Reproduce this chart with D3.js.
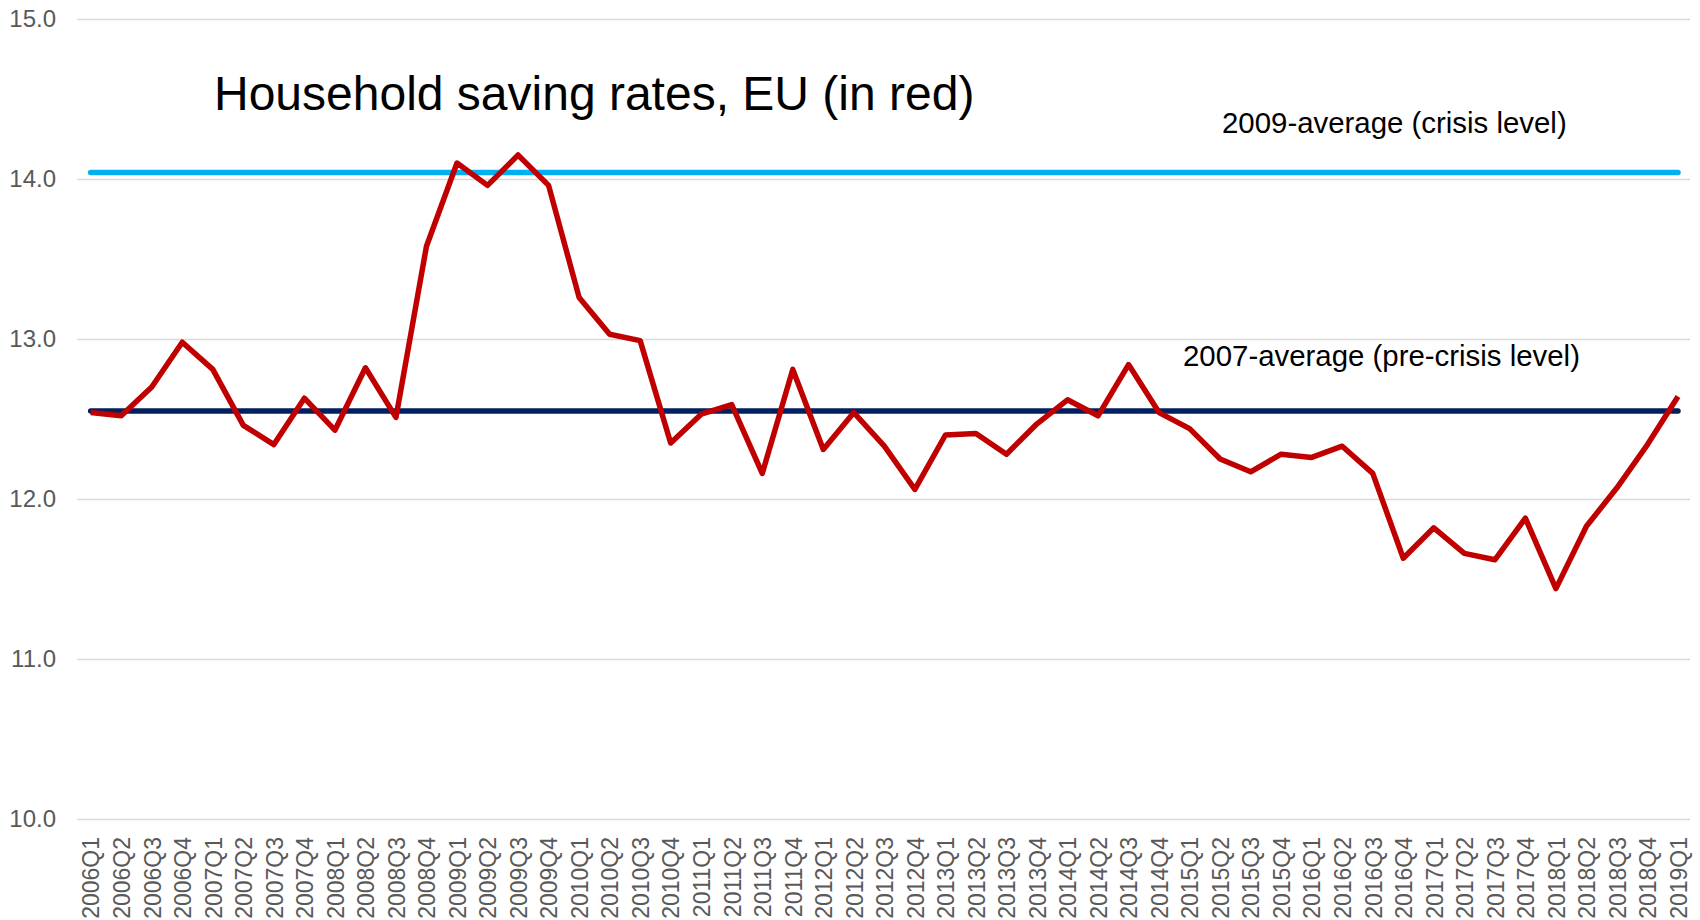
<!DOCTYPE html>
<html>
<head>
<meta charset="utf-8">
<script src="https://cdn.jsdelivr.net/npm/d3@7"></script>
<style>
  html, body { margin: 0; padding: 0; background: #ffffff; }
  svg { display: block; font-family: "Liberation Sans", Arial, sans-serif; }
</style>
</head>
<body>
<svg id="chart" width="1700" height="920"></svg>
<script>
// ---- data ----
const categories = [
  "2006Q1","2006Q2","2006Q3","2006Q4",
  "2007Q1","2007Q2","2007Q3","2007Q4",
  "2008Q1","2008Q2","2008Q3","2008Q4",
  "2009Q1","2009Q2","2009Q3","2009Q4",
  "2010Q1","2010Q2","2010Q3","2010Q4",
  "2011Q1","2011Q2","2011Q3","2011Q4",
  "2012Q1","2012Q2","2012Q3","2012Q4",
  "2013Q1","2013Q2","2013Q3","2013Q4",
  "2014Q1","2014Q2","2014Q3","2014Q4",
  "2015Q1","2015Q2","2015Q3","2015Q4",
  "2016Q1","2016Q2","2016Q3","2016Q4",
  "2017Q1","2017Q2","2017Q3","2017Q4",
  "2018Q1","2018Q2","2018Q3","2018Q4",
  "2019Q1"
];
const savingRateEU = [
  12.54, 12.52, 12.70, 12.98,
  12.81, 12.46, 12.34, 12.63,
  12.43, 12.82, 12.51, 13.58,
  14.10, 13.96, 14.15, 13.96,
  13.26, 13.03, 12.99, 12.35,
  12.53, 12.59, 12.16, 12.81,
  12.31, 12.54, 12.33, 12.06,
  12.40, 12.41, 12.28, 12.47,
  12.62, 12.52, 12.84, 12.54,
  12.44, 12.25, 12.17, 12.28,
  12.26, 12.33, 12.16, 11.63,
  11.82, 11.66, 11.62, 11.88,
  11.44, 11.83, 12.07, 12.34,
  12.64
];
const average2009 = 14.04;   // crisis level
const average2007 = 12.55;   // pre-crisis level
const yTicks = [10, 11, 12, 13, 14, 15];
const titleText = "Household saving rates, EU (in red)";
const label2009 = "2009-average (crisis level)";
const label2007 = "2007-average (pre-crisis level)";

// ---- layout ----
const svg = d3.select("#chart");
const plotLeft = 77, plotRight = 1690, plotTop = 19, plotBottom = 819;

const x = d3.scalePoint().domain(categories).range([90.7, 1678]);
const y = d3.scaleLinear().domain([10, 15]).range([plotBottom, plotTop]);

svg.append("rect").attr("width", 1700).attr("height", 920).attr("fill", "#ffffff");

// y axis with gridlines
const yAxis = svg.append("g")
  .attr("transform", `translate(${plotLeft},0)`)
  .call(d3.axisLeft(y).tickValues(yTicks).tickFormat(d3.format(".1f"))
        .tickSize(-(plotRight - plotLeft)).tickPadding(21));
yAxis.select(".domain").remove();
yAxis.selectAll(".tick line").attr("stroke", "#d9d9d9").attr("stroke-width", 1.5);
yAxis.selectAll(".tick text")
  .attr("fill", "#595959").style("font-size", "24px")
  .style("font-family", "'Liberation Sans', Arial, sans-serif");

// x axis labels
const xAxis = svg.append("g")
  .attr("transform", `translate(0,${plotBottom})`)
  .call(d3.axisBottom(x).tickSize(0));
xAxis.select(".domain").remove();
xAxis.selectAll(".tick text")
  .attr("transform", "rotate(-90)")
  .attr("text-anchor", "end")
  .attr("x", -18).attr("y", 0).attr("dy", "0.36em")
  .attr("fill", "#595959").style("font-size", "23px")
  .style("font-family", "'Liberation Sans', Arial, sans-serif");

// reference lines
const line = d3.line().x(d => x(d[0])).y(d => y(d[1]));
svg.append("path")
  .datum(categories.map(c => [c, average2009]))
  .attr("d", line).attr("fill", "none")
  .attr("stroke", "#00b0f0").attr("stroke-width", 5.5)
  .attr("stroke-linecap", "round");
svg.append("path")
  .datum(categories.map(c => [c, average2007]))
  .attr("d", line).attr("fill", "none")
  .attr("stroke", "#002060").attr("stroke-width", 5.5)
  .attr("stroke-linecap", "round");

// saving rate line
svg.append("path")
  .datum(categories.map((c, i) => [c, savingRateEU[i]]))
  .attr("d", line).attr("fill", "none")
  .attr("stroke", "#c00000").attr("stroke-width", 5.5)
  .attr("stroke-linejoin", "round");

// texts
svg.append("text").attr("x", 1222).attr("y", 133)
  .style("font-size", "29.4px").attr("fill", "#000000").text(label2009);
svg.append("text").attr("x", 1183).attr("y", 366)
  .style("font-size", "29.4px").attr("fill", "#000000").text(label2007);
svg.append("text").attr("x", 214).attr("y", 110)
  .style("font-size", "48px").attr("fill", "#000000").text(titleText);
</script>
</body>
</html>
